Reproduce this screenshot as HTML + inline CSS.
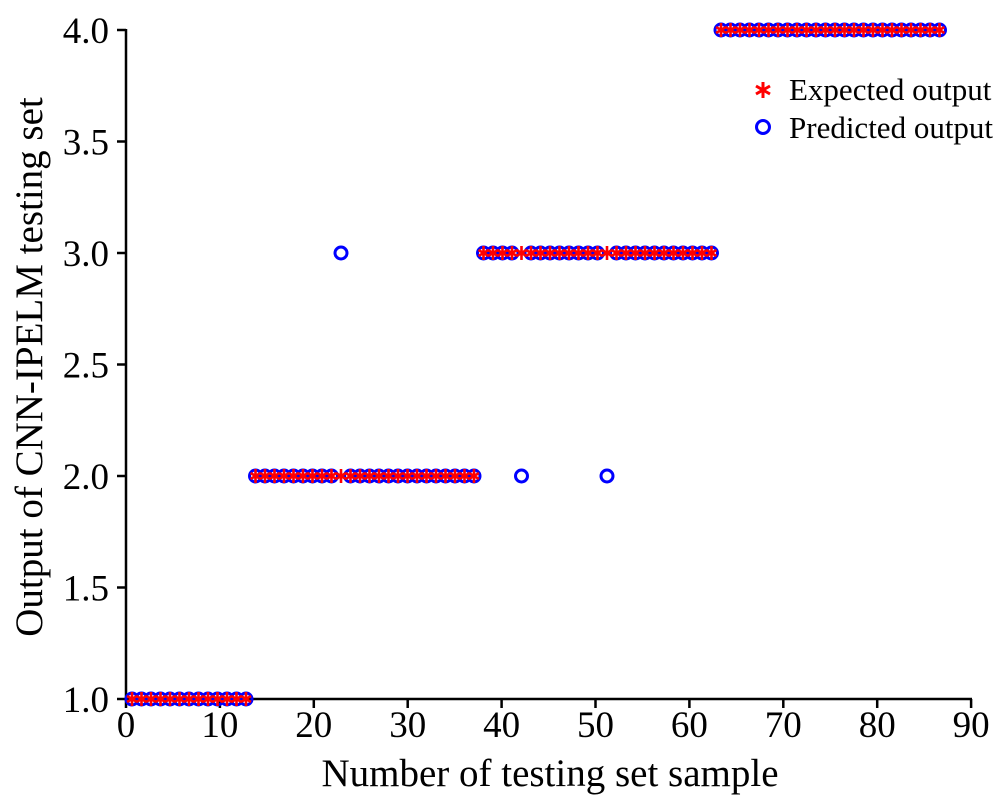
<!DOCTYPE html><html><head><style>body{margin:0;background:#fff}</style></head><body>
<svg id="s" width="1000" height="802" xmlns="http://www.w3.org/2000/svg" font-family="Liberation Serif, serif">
<g stroke="#000" stroke-width="2.5" fill="none">
<line x1="126" y1="29" x2="126" y2="700"/><line x1="125" y1="699" x2="972" y2="699"/>
</g>
<g id="t"></g><g id="p"></g>
<text x="550" y="786" font-size="39" text-anchor="middle">Number of testing set sample</text>
<text transform="translate(42,367) rotate(-90)" font-size="39" text-anchor="middle">Output of CNN-IPELM testing set</text>
<path d="M763 82V98M756 86L770 94M756 94L770 86" stroke="red" stroke-width="3"/>
<text x="789" y="100" font-size="31">Expected output</text>
<circle cx="763" cy="127" r="6.5" fill="none" stroke="blue" stroke-width="3"/>
<text x="789" y="138" font-size="31">Predicted output</text>
</svg>
<script>
var ns="http://www.w3.org/2000/svg",t=document.getElementById('t'),p=document.getElementById('p');
function el(n,a,par,tx){var e=document.createElementNS(ns,n);for(var k in a)e.setAttribute(k,a[k]);if(tx)e.textContent=tx;par.appendChild(e);}
for(var i=0;i<=9;i++){var x=126+i*93.9;el('line',{x1:x,y1:699,x2:x,y2:708,stroke:'#000','stroke-width':2.5},t);el('text',{x:x,y:737,'font-size':37,'text-anchor':'middle'},t,String(i*10));}
for(var j=0;j<=6;j++){var v=1+j*0.5,y=699-(v-1)*223;el('line',{x1:117,y1:y,x2:126,y2:y,stroke:'#000','stroke-width':2.5},t);el('text',{x:109,y:y+13,'font-size':37,'text-anchor':'end'},t,v.toFixed(1));}
function X(i){return 122.5+i*9.5}function Y(v){return 699-(v-1)*223}
for(var i=1;i<=86;i++){var e=i<=13?1:i<=37?2:i<=62?3:4,pr=e;if(i==23)pr=3;if(i==42||i==51)pr=2;
el('circle',{cx:X(i),cy:Y(pr),r:6,fill:'none',stroke:'blue','stroke-width':3},p);}
for(var i=1;i<=86;i++){var e=i<=13?1:i<=37?2:i<=62?3:4;var x=X(i),y=Y(e);
el('path',{d:'M'+x+' '+(y-7)+'V'+(y+7)+'M'+(x-5)+' '+(y-3)+'L'+(x+5)+' '+(y+3)+'M'+(x-5)+' '+(y+3)+'L'+(x+5)+' '+(y-3),stroke:'red','stroke-width':2.6},p);}
</script>
</body></html>
